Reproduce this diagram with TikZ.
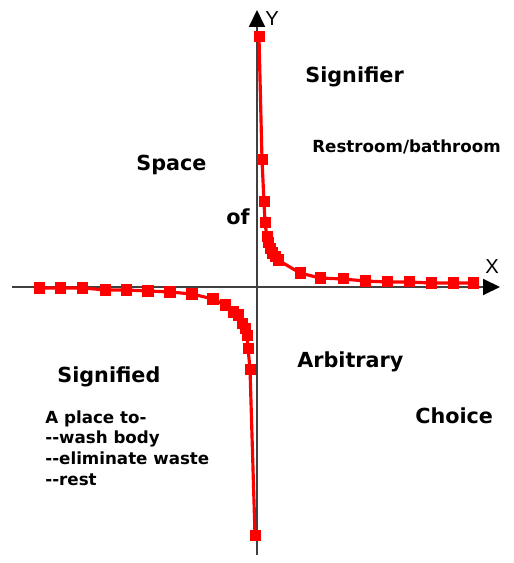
\documentclass[tikz,border=0pt]{standalone}
\usepackage{fontspec}
\setmainfont{DejaVu Sans}
\newfontfamily\assifont{Liberation Sans}
\usetikzlibrary{arrows.meta, plotmarks}

\begin{document}
\begin{tikzpicture}[
    etichetta/.style={font=\fontsize{11.8}{14}\selectfont\bfseries, anchor=base west, inner sep=0pt},
    piccola/.style={font=\fontsize{9.5}{11.9}\selectfont\bfseries, anchor=base west, inner sep=0pt},
    asse/.style={draw=black!75, line width=1.1pt, -{Triangle[length=0.34cm, width=0.32cm, color=black]}},
    curva/.style={red, line width=1.8pt, mark=square*, mark size=0.1cm, mark options={fill=red, draw=red, line width=0pt}},
  ]
  \useasboundingbox (-5.14,-5.52) rectangle (5.14,5.74);

  % Assi cartesiani
  \coordinate (xmin) at (-4.90,0);
  \coordinate (xmax) at (4.86,0);
  \coordinate (ymin) at (0,-5.36);
  \coordinate (ymax) at (0,5.54);
  \draw[asse] (xmin) -- (xmax);
  \draw[asse] (ymin) -- (ymax);
  \node[font=\assifont\fontsize{11.5}{13}\selectfont, inner sep=0pt] (lblx) at (4.70,0.40) {X};
  \node[font=\assifont\fontsize{11.5}{13}\selectfont, inner sep=0pt] (lbly) at (0.30,5.36) {Y};

  % Ramo positivo
  \draw[curva] plot coordinates {
    (0.04,5.00) (0.10,2.54) (0.14,1.70) (0.16,1.28) (0.20,1.00)
    (0.22,0.88) (0.26,0.76) (0.30,0.68) (0.36,0.60) (0.42,0.54)
    (0.86,0.28) (1.26,0.18) (1.72,0.16) (2.16,0.12) (2.60,0.10)
    (3.04,0.10) (3.48,0.08) (3.92,0.08) (4.32,0.08)};

  % Ramo negativo
  \draw[curva] plot coordinates {
    (-4.34,-0.02) (-3.92,-0.02) (-3.48,-0.02) (-3.02,-0.06) (-2.60,-0.06)
    (-2.18,-0.08) (-1.74,-0.10) (-1.30,-0.14) (-0.88,-0.24) (-0.64,-0.36)
    (-0.48,-0.50) (-0.38,-0.56) (-0.30,-0.72) (-0.24,-0.82) (-0.20,-0.96)
    (-0.18,-1.22) (-0.14,-1.64) (-0.04,-4.96)};

  % Etichette
  \node[etichetta] (signifier) at (0.96,4.08) {Signifier};
  \node[piccola] (restroom) at (1.10,2.68) {Restroom/bathroom};
  \node[etichetta] (space) at (-2.42,2.32) {Space};
  \node[etichetta] (of) at (-0.62,1.24) {of};
  \node[etichetta] (arbitrary) at (0.80,-1.60) {Arbitrary};
  \node[etichetta] (signified) at (-4.00,-1.90) {Signified};
  \node[etichetta] (choice) at (3.16,-2.72) {Choice};

  % Elenco a sinistra
  \node[piccola, align=left, anchor=north west] (luogo) at (-4.24,-2.46) {
    A place to-\\
    -{}-wash body\\
    -{}-eliminate waste\\
    -{}-rest
  };

\end{tikzpicture}
\end{document}
